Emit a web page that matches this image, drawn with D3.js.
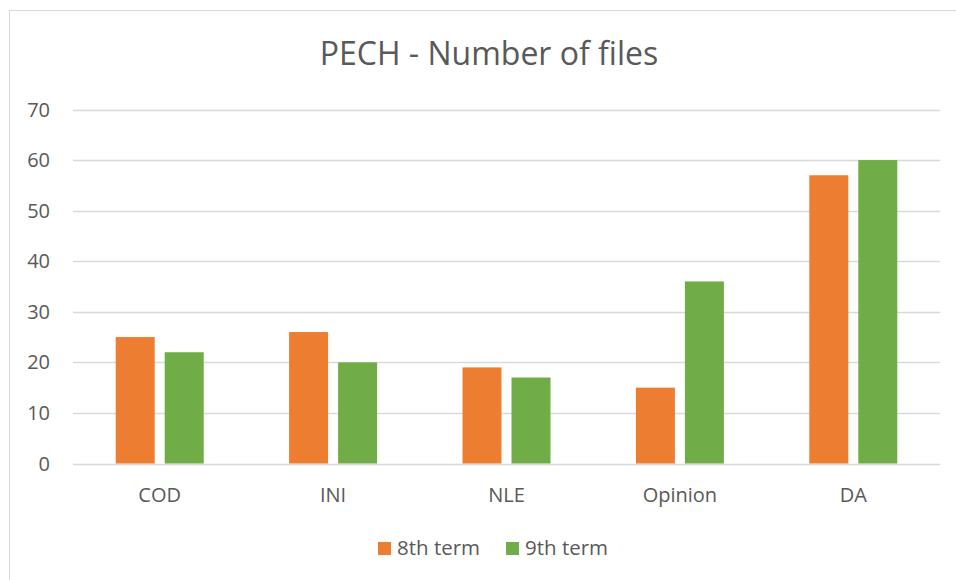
<!DOCTYPE html>
<html>
<head>
<meta charset="utf-8">
<script src="https://cdn.jsdelivr.net/npm/d3@7"></script>
<style>
  body { margin: 0; background: #fff; }
  text { font-family: "Open Sans", Lato, sans-serif; fill: #595959; }
</style>
</head>
<body>
<svg id="chart" width="956" height="580"></svg>
<script>
// data
const categories = ["COD", "INI", "NLE", "Opinion", "DA"]
const seriesNames = ["8th term", "9th term"]
const term8 = [25, 26, 19, 15, 57]
const term9 = [22, 20, 17, 36, 60]
const yTicks = [0, 10, 20, 30, 40, 50, 60, 70]
const colors = ["#ED7D31", "#70AD47"]

const svg = d3.select("#chart")

// chart frame
svg.append("rect")
  .attr("x", 9.5).attr("y", 10.5)
  .attr("width", 960).attr("height", 600)
  .attr("fill", "#fff")
  .attr("stroke", "#d9d9d9").attr("stroke-width", 1)

const plot = { left: 73, right: 940, top: 109.5, bottom: 463.5 }

const x0 = d3.scaleBand().domain(categories).range([plot.left, plot.right])
const y = d3.scaleLinear().domain([0, 70]).range([plot.bottom, plot.top])

// gridlines
svg.append("g").selectAll("line").data(yTicks).join("line")
  .attr("x1", plot.left).attr("x2", plot.right)
  .attr("y1", d => Math.round(y(d)) + 0.5).attr("y2", d => Math.round(y(d)) + 0.5)
  .attr("stroke", "#d9d9d9").attr("stroke-width", 1.3)

// y tick labels
svg.append("g").selectAll("text").data(yTicks).join("text")
  .attr("x", 50).attr("y", d => y(d) + 7)
  .attr("text-anchor", "end")
  .style("font-size", "20px")
  .text(d => d)

// bars
const rows = categories.map((c, i) => ({ cat: c, vals: [term8[i], term9[i]] }))
const groups = svg.append("g").selectAll("g").data(rows).join("g")

groups.each(function (row) {
  const cx = x0(row.cat) + x0.bandwidth() / 2
  const x1 = d3.scaleBand().domain(seriesNames)
    .range([cx - 44, cx + 44]).paddingInner(10 / 49)
  d3.select(this).selectAll("rect").data(seriesNames).join("rect")
    .attr("x", s => x1(s))
    .attr("width", x1.bandwidth())
    .attr("y", (s, j) => y(row.vals[j]))
    .attr("height", (s, j) => y(0) - y(row.vals[j]))
    .attr("fill", (s, j) => colors[j])
})

// category labels
svg.append("g").selectAll("text").data(categories).join("text")
  .attr("x", d => x0(d) + x0.bandwidth() / 2)
  .attr("y", 502)
  .attr("text-anchor", "middle")
  .style("font-size", "20px")
  .text(d => d)

// title
svg.append("text")
  .attr("x", 489).attr("y", 65)
  .attr("text-anchor", "middle")
  .style("font-size", "32px")
  .text("PECH - Number of files")

// legend
const legendX = [378, 506]
const legend = svg.append("g").selectAll("g").data(seriesNames).join("g")
  .attr("transform", (d, i) => `translate(${legendX[i]},542)`)
legend.append("rect")
  .attr("width", 13).attr("height", 13)
  .attr("fill", (d, i) => colors[i])
legend.append("text")
  .attr("x", 19).attr("y", 13)
  .style("font-size", "20.5px")
  .text(d => d)
</script>
</body>
</html>
